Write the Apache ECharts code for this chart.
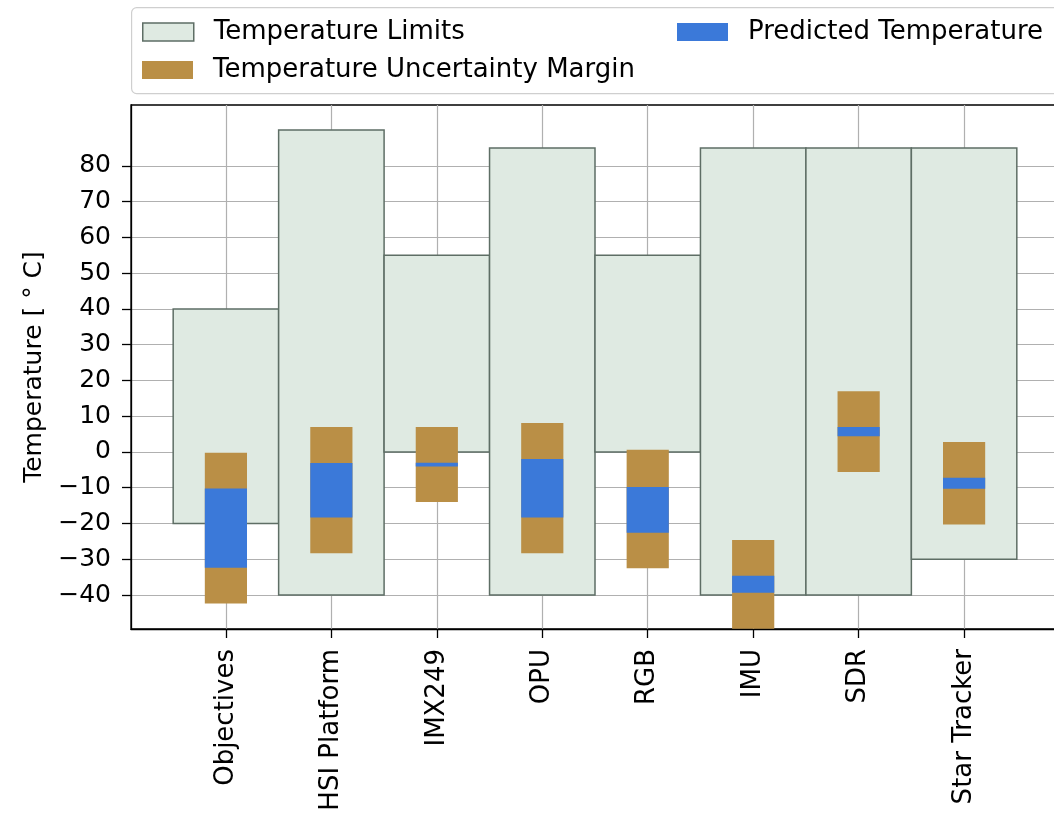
<!DOCTYPE html>
<html>
<head>
<meta charset="utf-8">
<title>Temperature budget</title>
<script src="https://cdn.jsdelivr.net/npm/echarts@6/dist/echarts.min.js"></script>
<style>
    html, body { margin: 0; padding: 0; background: #fff; }
    #chart { width: 1054px; height: 814px; }
</style>
</head>
<body>
<div id="chart"></div>
<script>
// 组件名称
const categories = ['Objectives', 'HSI Platform', 'IMX249', 'OPU', 'RGB', 'IMU', 'SDR', 'Star Tracker'];
// 温度限制 (min / max)
const limitMin = [-20, -40, 0, -40, 0, -40, -40, -30];
const limitMax = [40, 90, 55, 85, 55, 85, 85, 85];
// 不确定度范围
const marginMin = [-42.4, -28.3, -14.0, -28.3, -32.5, -49.4, -5.6, -20.3];
const marginMax = [-0.2, 7.0, 7.0, 8.1, 0.6, -24.6, 17.0, 2.8];
// 预测温度
const predMin = [-32.4, -18.3, -4.1, -18.3, -22.6, -39.4, 4.4, -10.3];
const predMax = [-10.2, -3.1, -3.0, -2.0, -9.8, -34.6, 7.0, -7.2];
// y轴刻度
const yTicks = [-40, -30, -20, -10, 0, 10, 20, 30, 40, 50, 60, 70, 80];

const FONT = 'DejaVu Sans';
const FS = 25;

const chart = echarts.init(document.getElementById('chart'));

// 把 min/max 数组组合成 [x, low, high]
function toRanges(lo, hi) {
    return categories.map((c, i) => [i, lo[i], hi[i]]);
}

// 画矩形条 (宽度是x轴单位)
function rangeBar(width) {
    return function (params, api) {
        const x = api.value(0);
        const p1 = api.coord([x - width / 2, api.value(2)]);
        const p2 = api.coord([x + width / 2, api.value(1)]);
        return {
            type: 'rect',
            shape: { x: p1[0], y: p1[1], width: p2[0] - p1[0], height: p2[1] - p1[1] },
            style: api.style()
        };
    };
}

const limitStyle = { color: '#dfeae2', borderColor: '#5e6e65', borderWidth: 1.5 };
const marginStyle = { color: '#ba8f46' };
const predStyle = { color: '#3b79d9' };

const legendText = { fontFamily: FONT, fontSize: 26, color: '#000', padding: [0, 0, 0, 15] };

function legendAt(left, top, name, style) {
    return {
        left: left, top: top, padding: 0,
        itemWidth: 51, itemHeight: 18,
        selectedMode: false,
        textStyle: legendText,
        data: [{ name: name, icon: 'rect', itemStyle: style }]
    };
}

const option = {
    backgroundColor: '#fff',
    animation: false,
    graphic: [{
        // 图例外框
        type: 'rect', left: 131, top: 7, z: 0,
        shape: { width: 960, height: 86, r: 5 },
        style: { fill: 'rgba(255,255,255,0.8)', stroke: '#cfcfcf', lineWidth: 1.2 }
    }],
    legend: [
        legendAt(142, 19, 'Temperature Limits', limitStyle),
        legendAt(142, 57, 'Temperature Uncertainty Margin', marginStyle),
        legendAt(677, 19, 'Predicted Temperature', predStyle)
    ],
    grid: {
        left: 131, top: 105, width: 928, height: 524,
        show: true, borderColor: '#000', borderWidth: 1.3,
        outerBoundsMode: 'none'
    },
    xAxis: {
        type: 'value',
        min: -0.9,
        max: 7.9,
        axisLine: { show: true, onZero: false, lineStyle: { color: '#000', width: 1.3 } },
        axisTick: {
            show: true, length: 9, customValues: categories.map((c, i) => i),
            lineStyle: { color: '#000', width: 1.3 }
        },
        axisLabel: {
            customValues: categories.map((c, i) => i),
            rotate: 90, margin: 20,
            fontFamily: FONT, fontSize: 26, color: '#000',
            formatter: v => categories[v]
        },
        splitLine: { show: true, lineStyle: { color: '#b0b0b0', width: 1.2 } }
    },
    yAxis: {
        type: 'value',
        min: -49.5,
        max: 97,
        name: 'Temperature [ \u00b0 C]',
        nameLocation: 'middle',
        nameGap: 84,
        nameTextStyle: { fontFamily: FONT, fontSize: FS, color: '#000' },
        axisLine: { show: true, onZero: false, lineStyle: { color: '#000', width: 1.3 } },
        axisTick: {
            show: true, length: 9, customValues: yTicks,
            lineStyle: { color: '#000', width: 1.3 }
        },
        axisLabel: {
            customValues: yTicks, margin: 20,
            fontFamily: FONT, fontSize: FS, color: '#000',
            formatter: v => (v < 0 ? '\u2212' + Math.abs(v) : String(v))
        },
        splitLine: { show: true, lineStyle: { color: '#b0b0b0', width: 1.2 } }
    },
    series: [
        {
            name: 'Temperature Limits',
            type: 'custom',
            renderItem: rangeBar(1.0),
            itemStyle: limitStyle,
            encode: { x: 0, y: [1, 2] },
            data: toRanges(limitMin, limitMax)
        },
        {
            name: 'Temperature Uncertainty Margin',
            type: 'custom',
            renderItem: rangeBar(0.4),
            itemStyle: marginStyle,
            encode: { x: 0, y: [1, 2] },
            data: toRanges(marginMin, marginMax)
        },
        {
            name: 'Predicted Temperature',
            type: 'custom',
            renderItem: rangeBar(0.4),
            itemStyle: predStyle,
            encode: { x: 0, y: [1, 2] },
            data: toRanges(predMin, predMax)
        }
    ]
};

chart.setOption(option);
</script>
</body>
</html>
